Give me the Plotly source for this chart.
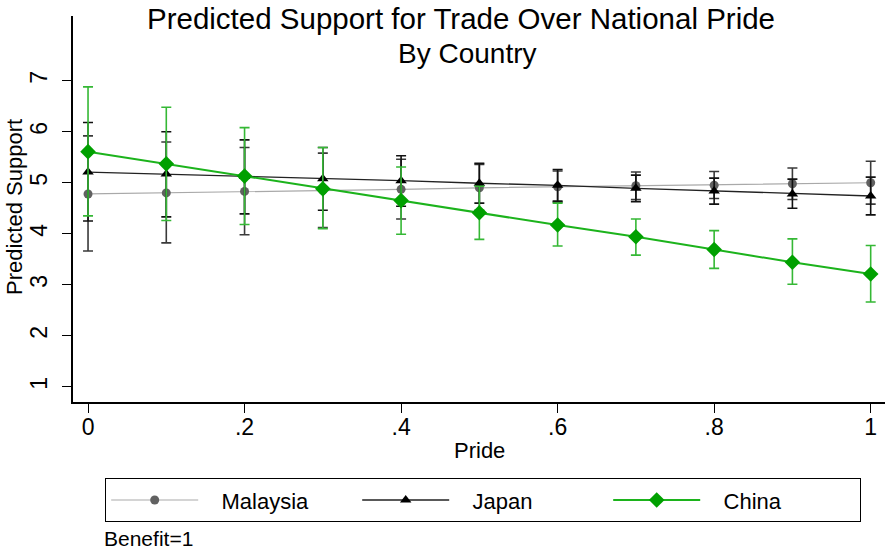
import plotly.graph_objects as go

# Predictive margins of trade support across levels of national pride
pride = [0, 0.1, 0.2, 0.3, 0.4, 0.5, 0.6, 0.7, 0.8, 0.9, 1.0]

malaysia_mean = [4.78, 4.80, 4.83, 4.85, 4.87, 4.90, 4.92, 4.94, 4.95, 4.98, 5.00]
malaysia_lo = [3.66, 3.82, 3.98, 4.12, 4.29, 4.46, 4.62, 4.67, 4.69, 4.67, 4.58]
malaysia_hi = [5.92, 5.80, 5.69, 5.58, 5.46, 5.36, 5.23, 5.21, 5.22, 5.29, 5.42]

japan_mean = [5.21, 5.17, 5.12, 5.08, 5.04, 4.99, 4.95, 4.89, 4.84, 4.78, 4.74]
japan_lo = [4.25, 4.33, 4.39, 4.46, 4.54, 4.60, 4.64, 4.63, 4.58, 4.50, 4.37]
japan_hi = [6.18, 6.00, 5.84, 5.69, 5.53, 5.38, 5.26, 5.15, 5.09, 5.07, 5.11]

china_mean = [5.61, 5.37, 5.13, 4.88, 4.65, 4.41, 4.17, 3.94, 3.69, 3.44, 3.21]
china_lo = [4.35, 4.26, 4.18, 4.10, 3.99, 3.89, 3.76, 3.58, 3.32, 3.01, 2.66]
china_hi = [6.88, 6.48, 6.08, 5.69, 5.31, 4.93, 4.60, 4.29, 4.06, 3.90, 3.77]

x_tickvals = [0, 0.2, 0.4, 0.6, 0.8, 1.0]
x_ticktext = ["0", ".2", ".4", ".6", ".8", "1"]
y_tickvals = [1, 2, 3, 4, 5, 6, 7]

FONT = "Liberation Sans, Arial, Helvetica, sans-serif"
GAP = "\u00a0\u00a0\u00a0"  # extra room between legend key and its label

series = [
    ("Malaysia", malaysia_mean, malaysia_lo, malaysia_hi,
     dict(symbol="circle", size=9, color="#616161"), "#a9a9a9", 1.2, "#3a3a3a"),
    ("Japan", japan_mean, japan_lo, japan_hi,
     dict(symbol="triangle-up", size=10, color="#000000"), "#222222", 1.3, "#111111"),
    ("China", china_mean, china_lo, china_hi,
     dict(symbol="diamond", size=12, color="#00a000"), "#1cb31c", 2.0, "#35b835"),
]

fig = go.Figure()
for name, mean, lo, hi, marker, lcol, lw, ecol in series:
    plus = [h - m for h, m in zip(hi, mean)]
    minus = [m - l for m, l in zip(mean, lo)]
    fig.add_trace(go.Scatter(
        x=pride, y=mean, name=GAP + name, mode="lines+markers",
        line=dict(color=lcol, width=lw),
        marker=dict(symbol=marker["symbol"], size=marker["size"],
                    color=marker["color"], line=dict(width=0)),
        error_y=dict(type="data", array=plus, arrayminus=minus,
                     color=ecol, thickness=1.6, width=5),
    ))

W, H = 885, 552
L, R, T, B = 73, 0, 16, 150
pw, ph = W - L - R, H - T - B

def px_x(p):
    return (p - L) / pw

def px_y(p):
    return (H - B - p) / ph

fig.update_layout(
    width=W, height=H,
    margin=dict(l=L, r=R, t=T, b=B, pad=0),
    paper_bgcolor="white", plot_bgcolor="white",
    font=dict(family=FONT, size=22, color="black"),
    showlegend=True,
    legend=dict(
        orientation="h", x=px_x(105), xanchor="left",
        y=px_y(478), yanchor="top",
        bordercolor="black", borderwidth=1.2,
        font=dict(size=22), itemwidth=87, entrywidth=149,
        entrywidthmode="pixels", itemsizing="trace",
        tracegroupgap=0,
    ),
    xaxis=dict(
        range=[-0.0192, 1.0183], tickvals=x_tickvals, ticktext=x_ticktext,
        showgrid=False, zeroline=False, showline=True, linecolor="black",
        linewidth=1.5, ticks="outside", ticklen=9, tickwidth=1.3,
        tickcolor="black", ticklabelstandoff=-5,
        tickfont=dict(size=23),
    ),
    yaxis=dict(
        range=[0.70, 8.27], tickvals=y_tickvals,
        showgrid=False, zeroline=False, showline=True, linecolor="black",
        linewidth=1.5, ticks="outside", ticklen=9, tickwidth=1.3,
        tickcolor="black", tickangle=-90, ticklabelstandoff=6,
        tickfont=dict(size=23),
    ),
    annotations=[
        dict(text="Predicted Support for Trade Over National Pride",
             xref="paper", yref="paper", x=px_x(461), y=px_y(18),
             xanchor="center", yanchor="middle", showarrow=False,
             font=dict(size=29.5)),
        dict(text="By Country",
             xref="paper", yref="paper", x=px_x(467), y=px_y(53),
             xanchor="center", yanchor="middle", showarrow=False,
             font=dict(size=28)),
        dict(text="Pride", xref="paper", yref="paper",
             x=px_x(479), y=px_y(450), xanchor="center", yanchor="middle",
             showarrow=False, font=dict(size=22)),
        dict(text="Predicted Support", xref="paper", yref="paper",
             x=px_x(14), y=px_y(207), xanchor="center", yanchor="middle",
             textangle=-90, showarrow=False, font=dict(size=22)),
        dict(text="Benefit=1", xref="paper", yref="paper",
             x=px_x(103), y=px_y(551), xanchor="left", yanchor="bottom",
             borderpad=0, showarrow=False, font=dict(size=21)),
    ],
)

fig.write_html("out.html")
